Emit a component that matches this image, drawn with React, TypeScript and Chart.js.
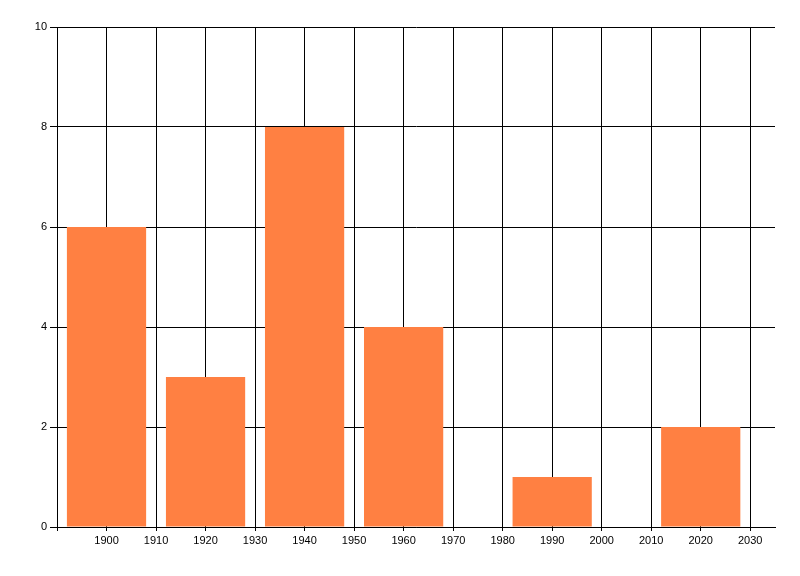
import React, { useEffect, useRef } from "react";
import { Chart, registerables } from "chart.js";

Chart.register(...registerables);

const years = [1900, 1920, 1940, 1960, 1990, 2020];
const counts = [6, 3, 8, 4, 1, 2];
const xMin = 1890;
const xMax = 2035;
const xFirstLabel = 1900;
const xLastLabel = 2030;
const xStep = 10;
const yMin = 0;
const yMax = 10;
const yStep = 2;

export default function App() {
  const ref = useRef<HTMLCanvasElement | null>(null);
  useEffect(() => {
    document.body.style.margin = "0";
    const ctx = ref.current!;
    const chart = new Chart(ctx, {
      type: "bar",
      data: {
        datasets: [
          {
            data: years.map((y, i) => ({ x: y, y: counts[i] })),
            backgroundColor: "#FF8042",
            borderWidth: 0,
            barPercentage: 1.6,
            categoryPercentage: 1,
          },
        ],
      },
      options: {
        animation: false,
        responsive: false,
        maintainAspectRatio: false,
        layout: { padding: { left: 0, top: 27, right: 25, bottom: 0 } },
        plugins: { legend: { display: false }, tooltip: { enabled: false } },
        scales: {
          x: {
            type: "linear",
            min: xMin,
            max: xMax,
            offset: false,
            afterBuildTicks: (scale: any) => {
              const t: any[] = [];
              for (let v = xMin; v <= xLastLabel; v += xStep) t.push({ value: v });
              scale.ticks = t;
            },
            afterFit: (scale: any) => {
              scale.height = 49;
            },
            ticks: {
              autoSkip: false,
              maxRotation: 0,
              padding: 3,
              color: "#000",
              font: { family: "Liberation Sans", size: 11 },
              callback: (v: any) => (v >= xFirstLabel ? String(v) : ""),
            },
            grid: {
              color: "#000",
              lineWidth: 1,
              tickLength: 4,
              offset: false,
              drawOnChartArea: true,
            },
            border: { color: "#000", width: 1 },
          },
          y: {
            min: yMin,
            max: yMax,
            afterFit: (scale: any) => {
              scale.width = 57;
            },
            ticks: {
              stepSize: yStep,
              padding: 3,
              color: "#000",
              font: { family: "Liberation Sans", size: 11 },
            },
            grid: { color: "#000", lineWidth: 1, tickLength: 7 },
            border: { color: "#000", width: 1 },
          },
        },
      },
    });
    return () => chart.destroy();
  }, []);
  return (
    <div style={{ width: 800, height: 576, background: "#fff" }}>
      <canvas ref={ref} width={800} height={576} style={{ display: "block" }} />
    </div>
  );
}
